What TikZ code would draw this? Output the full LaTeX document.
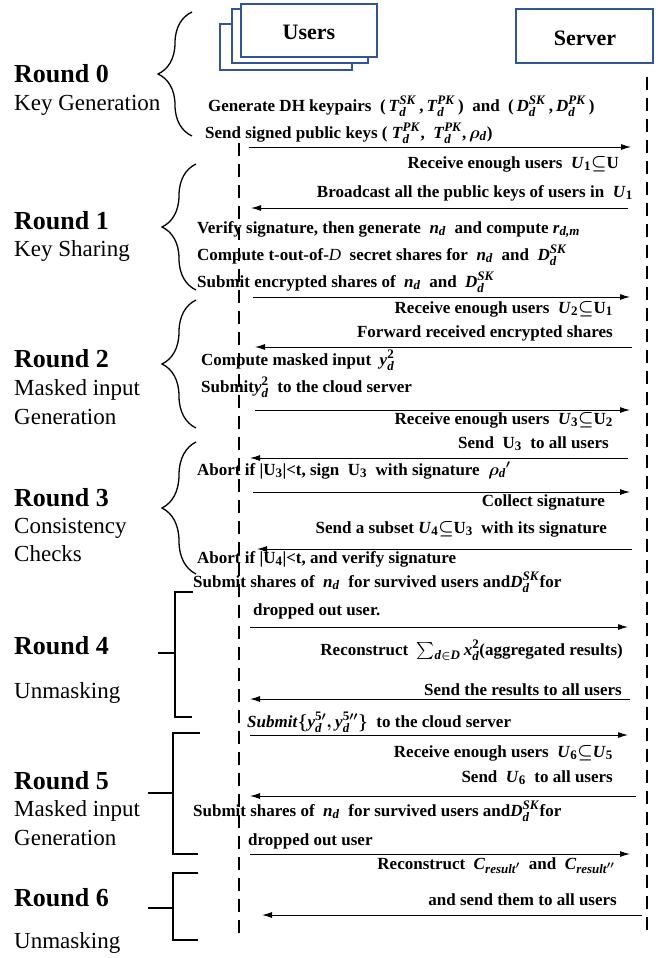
\documentclass[tikz,border=0pt]{standalone}
\usepackage{fontspec}
\setmainfont{Liberation Serif}
\usepackage{amsmath}
\usepackage{amssymb}
\usepackage{bm}
\usepackage{xcolor}
\usetikzlibrary{arrows.meta,decorations.pathreplacing}
\definecolor{boxblue}{RGB}{47,85,151}
\DeclareMathSizes{17}{17}{13}{10}
\newcommand{\bvar}[1]{\textbf{\textit{#1}}}
\newcommand{\keyv}[3]{\bvar{#1}_{\bvar{#2}}^{\bvar{#3}}}
\newcommand{\subv}[2]{\bvar{#1}_{\bvar{#2}}}
\newcommand{\subn}[2]{\bvar{#1}_{\textbf{#2}}}
\newcommand{\setU}[1]{\textbf{U}_{\textbf{#1}}}
\newcommand{\sbs}{{\bm{\subseteq}}}
\tikzset{
  txt/.style={font=\fontsize{17}{20}\selectfont\bfseries\boldmath, inner sep=0pt},
  txtl/.style={txt, anchor=base west},
  txtr/.style={txt, anchor=base east},
  rnd/.style={font=\fontsize{26}{30}\selectfont\bfseries, inner sep=0pt, anchor=base west},
  rndsub/.style={font=\fontsize{23}{27}\selectfont, inner sep=0pt, anchor=base west},
  msg/.style={line width=1pt, -{Latex[length=10pt,width=6pt]}},
  life/.style={line width=1.3pt, dash pattern=on 13pt off 8pt},
  brc/.style={line width=1.3pt, decorate, decoration={brace, amplitude=34pt}},
  brk/.style={line width=1.5pt},
  party/.style={draw=boxblue, line width=1.6pt, fill=white},
}

\begin{document}
\begin{tikzpicture}[x=1pt,y=-1pt]
\useasboundingbox (0,0) rectangle (658,958);

\draw [party] (220,24) rectangle (352,70);
\draw [party] (232,9) rectangle (368,63);
\draw [party] (241,4) rectangle (377,57);
\node [font=\fontsize{22}{26}\selectfont\bfseries] (users) at (309,32) {Users};
\draw [party] (516,9) rectangle (653,63);
\node [font=\fontsize{22}{26}\selectfont\bfseries] (server) at (585,38) {Server};

\draw [life] (239,143) -- (239,935);
\draw [life] (647,77) -- (647,935);

\node [rnd] (r0) at (14,82) {Round 0};
\node [rndsub] (r0t) at (14,110) {Key Generation};
\node [rnd] (r1) at (14,229) {Round 1};
\node [rndsub] (r1t) at (14,256) {Key Sharing};
\node [rnd] (r2) at (14,367) {Round 2};
\node [rndsub] (r2t) at (14,395) {Masked input};
\node [rndsub] (r2u) at (14,424) {Generation};
\node [rnd] (r3) at (14,506) {Round 3};
\node [rndsub] (r3t) at (14,533) {Consistency};
\node [rndsub] (r3u) at (14,561) {Checks};
\node [rnd] (r4) at (14,654) {Round 4};
\node [rndsub] (r4t) at (14,698) {Unmasking};
\node [rnd] (r5) at (14,789) {Round 5};
\node [rndsub] (r5t) at (14,816) {Masked input};
\node [rndsub] (r5u) at (14,845) {Generation};
\node [rnd] (r6) at (14,906) {Round 6};
\node [rndsub] (r6t) at (14,948) {Unmasking};

\draw [brc] (192,136) -- (192,12);
\draw [brc] (196,290) -- (196,164);
\draw [brc] (196,428) -- (196,300);
\draw [brc] (196,574) -- (196,442);
\draw [brk] (193,592) -- (175,592) -- (175,717) -- (192,717);
\draw [brk] (158,653) -- (175,653);
\draw [brk] (200,733) -- (173,733) -- (173,854) -- (198,854);
\draw [brk] (148,793) -- (173,793);
\draw [brk] (198,873) -- (173,873) -- (173,940) -- (198,940);
\draw [brk] (148,908) -- (173,908);

\node [txtl] (m1) at (208,111) {Generate DH keypairs~ (\,$\keyv{T}{d}{SK}$\,,\,$\keyv{T}{d}{PK}$\,)~ and~ (\,$\keyv{D}{d}{SK}$\,,\,$\keyv{D}{d}{PK}$\,)};
\node [txtl] (m2) at (205,138) {Send signed public keys ( $\keyv{T}{d}{PK}$,~ $\keyv{T}{d}{PK}$,\,$\bm{\rho}_{\bvar{d}}$)};
\draw [msg] (249,147) -- (631,147);
\node [txtr] (m3) at (619,168) {Receive enough users~ $\subn{U}{1}\sbs\textbf{U}$};
\node [txtr] (m4) at (633,197) {Broadcast all the public keys of users in~ $\subn{U}{1}$};
\draw [msg] (628,208) -- (251,208);
\node [txtl] (m5) at (197,233) {Verify signature, then generate~ $\subv{n}{d}$~ and compute $\subv{r}{d,m}$};
\node [txtl] (m6) at (197,260) {Compute t-out-of-\textmd{\textit{D}}~ secret shares for~ $\subv{n}{d}$~ and~ $\keyv{D}{d}{SK}$};
\node [txtl] (m7) at (197,287) {Submit encrypted shares of~ $\subv{n}{d}$~ and~ $\keyv{D}{d}{SK}$};
\draw [msg] (253,297) -- (630,297);
\node [txtr] (m8) at (613,313) {Receive enough users~ $\subn{U}{2}\sbs\setU{1}$};
\node [txtr] (m9) at (613,337) {Forward received encrypted shares};
\draw [msg] (632,347) -- (255,347);
\node [txtl] (m10) at (201,365) {Compute masked input~ $\bvar{y}_{\bvar{d}}^{\textbf{2}}$};
\node [txtl] (m11) at (201,392) {Submit$\bvar{y}_{\bvar{d}}^{\textbf{2}}$~ to the cloud server};
\draw [msg] (255,410) -- (630,410);
\node [txtr] (m12) at (613,424) {Receive enough users~ $\subn{U}{3}\sbs\setU{2}$};
\node [txtr] (m13) at (609,448) {Send~ $\setU{3}$~ to all users};
\draw [msg] (628,458) -- (250,458);
\node [txtl] (m14) at (197,475) {Abort if |$\setU{3}$|<t, sign~ $\setU{3}$~ with signature~ $\bm{\rho}_{\bvar{d}}{}'$};
\draw [msg] (253,492) -- (630,492);
\node [txtr] (m15) at (605,506) {Collect signature};
\node [txtr] (m16) at (607,533) {Send a subset $\subn{U}{4}\sbs\setU{3}$~ with its signature};
\draw [msg] (632,549) -- (257,549);
\node [txtl] (m17) at (197,563) {Abort if |$\setU{4}$|<t, and verify signature};
\node [txtl] (m18) at (193,587) {Submit shares of~ $\subv{n}{d}$~ for survived users and$\keyv{D}{d}{SK}$for};
\node [txtl] (m19) at (253,615) {dropped out user.};
\draw [msg] (250,627) -- (628,627);
\node [txtr] (m20) at (623,655) {Reconstruct~ $\sum_{\bvar{d}\in\bvar{D}}\bvar{x}_{\bvar{d}}^{\textbf{2}}$(aggregated results)};
\node [txtr] (m21) at (622,695) {Send the results to all users};
\draw [msg] (630,699) -- (250,699);
\node [txtl] (m22) at (247,727) {\textit{Submit}$\{\bvar{y}_{\bvar{d}}^{\textbf{5}\prime},\bvar{y}_{\bvar{d}}^{\textbf{5}\prime\prime}\}$~ to the cloud server};
\draw [msg] (250,735) -- (628,735);
\node [txtr] (m23) at (613,757) {Receive enough users~ $\subn{U}{6}\sbs\subn{U}{5}$};
\node [txtr] (m24) at (613,782) {Send~ $\subn{U}{6}$~ to all users};
\draw [msg] (636,796) -- (250,796);
\node [txtl] (m25) at (193,816) {Submit shares of~ $\subv{n}{d}$~ for survived users and$\keyv{D}{d}{SK}$for};
\node [txtl] (m26) at (248,845) {dropped out user};
\draw [msg] (250,854) -- (630,854);
\node [txtr] (m27) at (615,869) {Reconstruct~ $\bvar{C}_{\bvar{result}'}$~ and~ $\bvar{C}_{\bvar{result}''}$};
\node [txtr] (m28) at (617,905) {and send them to all users};
\draw [msg] (642,915) -- (262,915);
\end{tikzpicture}
\end{document}
